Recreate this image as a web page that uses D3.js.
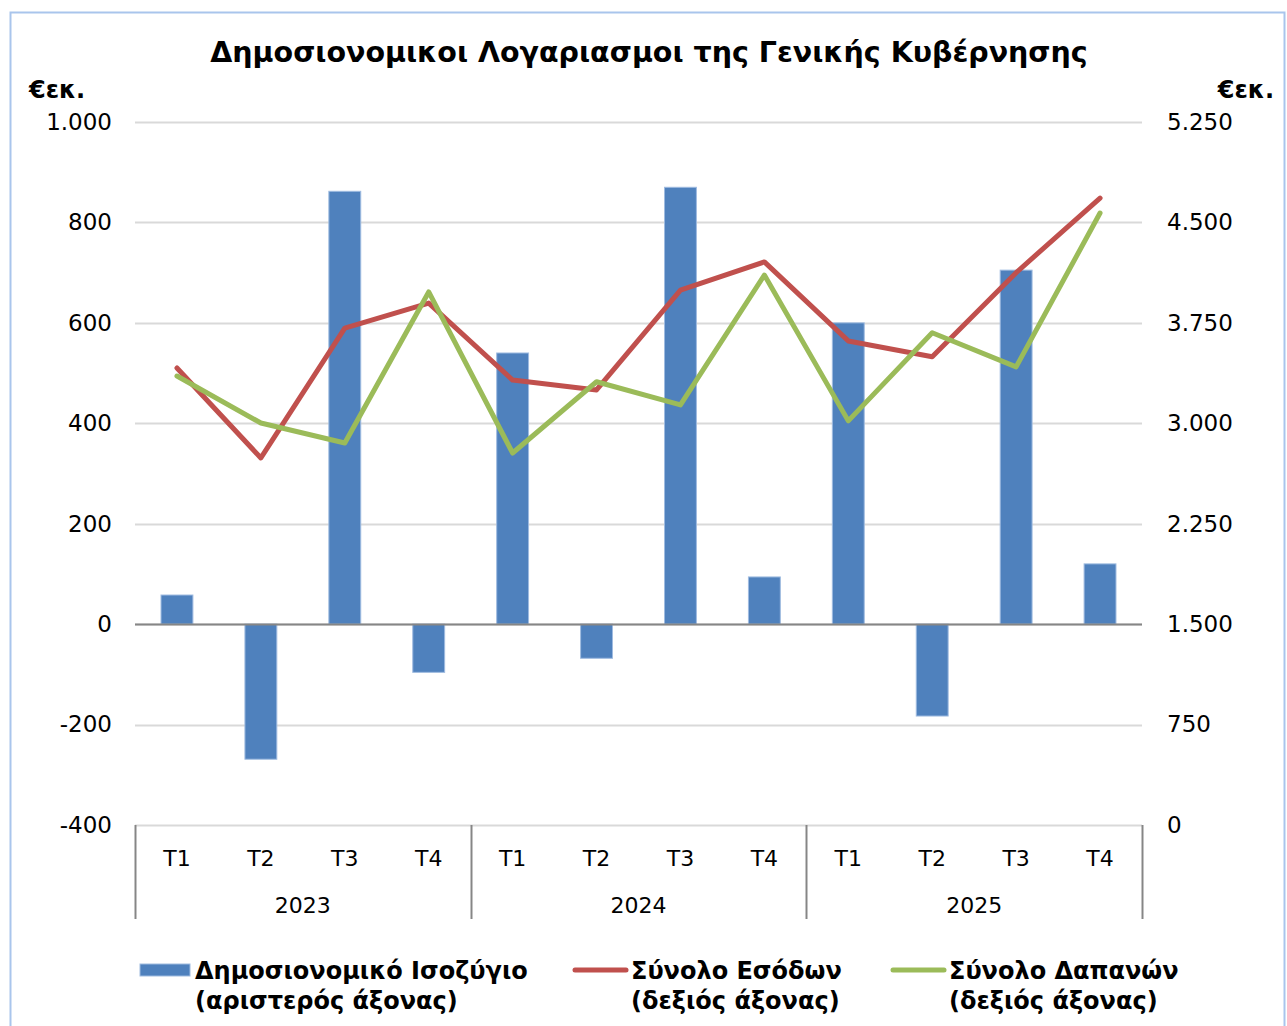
<!DOCTYPE html>
<html>
<head>
<meta charset="utf-8">
<script src="https://cdn.jsdelivr.net/npm/d3@7"></script>
<style>
  body { margin: 0; background: #fff; }
  text { font-family: "DejaVu Sans", Verdana, sans-serif; fill: #000; }
</style>
</head>
<body>
<div id="myChart"></div>
<script>
let quarters = ['T1', 'T2', 'T3', 'T4', 'T1', 'T2', 'T3', 'T4', 'T1', 'T2', 'T3', 'T4'];
let years = ['2023', '2024', '2025'];
// Δημοσιονομικό Ισοζύγιο (left axis)
let balance = [58, -269, 862, -96, 540, -68, 870, 94, 600, -183, 705, 120];
// Σύνολο Εσόδων (right axis)
let revenue = [3413, 2741, 3710, 3898, 3323, 3249, 3995, 4205, 3615, 3497, 4125, 4682];
// Σύνολο Δαπανών (right axis)
let expenditure = [3353, 3002, 2853, 3981, 2778, 3310, 3137, 4107, 3018, 3676, 3421, 4570];
let leftTicks = [-400, -200, 0, 200, 400, 600, 800, 1000];
let rightTicks = [0, 750, 1500, 2250, 3000, 3750, 4500, 5250];

let W = 1287, H = 1026;
let margin = { left: 135, right: 145, top: 122, bottom: 201 };
let width = W - margin.left - margin.right;
let height = H - margin.top - margin.bottom;

let grFormat = d3.formatLocale({ decimal: ',', thousands: '.', grouping: [3], currency: ['€', ''], minus: '-' }).format(',d');

let root = d3.select('#myChart').append('svg').attr('width', W).attr('height', H);

// chart frame
root.append('rect')
    .attr('x', 10.5).attr('y', 12.5)
    .attr('width', 1274).attr('height', 1040)
    .attr('fill', 'none')
    .attr('stroke', '#a9c5ec')
    .attr('stroke-width', 2);

root.append('text')
    .attr('x', 649).attr('y', 62)
    .style('text-anchor', 'middle')
    .style('font-weight', 'bold')
    .style('font-size', '28.5px')
    .text('Δημοσιονομικοι Λογαριασμοι της Γενικής Κυβέρνησης');

root.append('text').attr('x', 29).attr('y', 98)
    .style('font-weight', 'bold').style('font-size', '24px').text('€εκ.');
root.append('text').attr('x', 1274).attr('y', 98)
    .style('text-anchor', 'end')
    .style('font-weight', 'bold').style('font-size', '24px').text('€εκ.');

let svg = root.append('g')
    .attr('transform', 'translate(' + margin.left + ',' + margin.top + ')');

let idx = d3.range(quarters.length);
let x = d3.scaleBand().domain(idx).range([0, width]).paddingInner(0).paddingOuter(0);
let barW = x.bandwidth() * 0.38;
let yL = d3.scaleLinear().domain([-400, 1000]).range([height, 0]);
let yR = d3.scaleLinear().domain([0, 5250]).range([height, 0]);

// gridlines
svg.selectAll('.grid')
    .data(leftTicks)
    .enter()
    .append('line')
    .attr('class', 'grid')
    .attr('x1', 0).attr('x2', width)
    .attr('y1', (d) => Math.round(yL(d)) + 0.5)
    .attr('y2', (d) => Math.round(yL(d)) + 0.5)
    .attr('stroke', '#d9d9d9')
    .attr('stroke-width', 2);

// left axis
let axL = svg.append('g')
    .call(d3.axisLeft(yL).tickValues(leftTicks).tickFormat(grFormat).tickSize(0).tickPadding(23));
axL.select('.domain').remove();
axL.selectAll('text').style('font-size', '23px').attr('fill', '#000').style('font-family', '"DejaVu Sans", Verdana, sans-serif');

// right axis
let axR = svg.append('g')
    .attr('transform', 'translate(' + width + ',0)')
    .call(d3.axisRight(yR).tickValues(rightTicks).tickFormat(grFormat).tickSize(0).tickPadding(25));
axR.select('.domain').remove();
axR.selectAll('text').style('font-size', '23px').attr('fill', '#000').style('font-family', '"DejaVu Sans", Verdana, sans-serif');

// bars
svg.selectAll('.bar')
    .data(balance)
    .enter()
    .append('rect')
    .attr('class', 'bar')
    .attr('x', (d, i) => x(i) + (x.bandwidth() - barW) / 2)
    .attr('width', barW)
    .attr('y', (d) => yL(Math.max(0, d)))
    .attr('height', (d) => Math.abs(yL(d) - yL(0)))
    .attr('fill', '#4f81bd')
    .attr('stroke', '#9fbbe0')
    .attr('stroke-width', 1);

// zero line
svg.append('line')
    .attr('x1', 0).attr('x2', width)
    .attr('y1', Math.round(yL(0)) + 0.5).attr('y2', Math.round(yL(0)) + 0.5)
    .attr('stroke', '#868686')
    .attr('stroke-width', 2);

// lines
let line = d3.line()
    .x((d, i) => x(i) + x.bandwidth() / 2)
    .y((d) => yR(d));

svg.append('path')
    .datum(revenue)
    .attr('d', line)
    .attr('fill', 'none')
    .attr('stroke', '#c0504d')
    .attr('stroke-width', 5)
    .attr('stroke-linejoin', 'round')
    .attr('stroke-linecap', 'round');

svg.append('path')
    .datum(expenditure)
    .attr('d', line)
    .attr('fill', 'none')
    .attr('stroke', '#9bbb59')
    .attr('stroke-width', 5)
    .attr('stroke-linejoin', 'round')
    .attr('stroke-linecap', 'round');

// category axis: quarters and years
let catG = svg.append('g').attr('transform', 'translate(0,' + height + ')');
catG.selectAll('.q')
    .data(quarters)
    .enter()
    .append('text')
    .attr('class', 'q')
    .attr('x', (d, i) => x(i) + x.bandwidth() / 2)
    .attr('y', 41)
    .style('text-anchor', 'middle')
    .style('font-size', '22px')
    .text((d) => d);

let yearW = width / years.length;
catG.selectAll('.yr')
    .data(years)
    .enter()
    .append('text')
    .attr('class', 'yr')
    .attr('x', (d, i) => yearW * i + yearW / 2)
    .attr('y', 88)
    .style('text-anchor', 'middle')
    .style('font-size', '22px')
    .text((d) => d);

catG.selectAll('.sep')
    .data(d3.range(years.length + 1))
    .enter()
    .append('line')
    .attr('class', 'sep')
    .attr('x1', (d) => Math.round(yearW * d) + 0.5)
    .attr('x2', (d) => Math.round(yearW * d) + 0.5)
    .attr('y1', 0).attr('y2', 94)
    .attr('stroke', '#868686')
    .attr('stroke-width', 2);

// legend
let legend = [
    { type: 'bar', color: '#4f81bd', x: 140, l1: 'Δημοσιονομικό Ισοζύγιο', l2: '(αριστερός άξονας)' },
    { type: 'line', color: '#c0504d', x: 572, l1: 'Σύνολο Εσόδων', l2: '(δεξιός άξονας)' },
    { type: 'line', color: '#9bbb59', x: 890, l1: 'Σύνολο Δαπανών', l2: '(δεξιός άξονας)' },
];
let lg = root.selectAll('.legend')
    .data(legend)
    .enter()
    .append('g')
    .attr('class', 'legend')
    .attr('transform', (d) => 'translate(' + d.x + ',970)');

lg.filter((d) => d.type === 'bar')
    .append('rect')
    .attr('x', 0).attr('y', -6)
    .attr('width', 50).attr('height', 12)
    .attr('fill', '#4f81bd')
    .attr('stroke', '#9fbbe0');

lg.filter((d) => d.type === 'line')
    .append('line')
    .attr('x1', 3).attr('x2', 54)
    .attr('y1', 0).attr('y2', 0)
    .attr('stroke', (d) => d.color)
    .attr('stroke-width', 5)
    .attr('stroke-linecap', 'round');

lg.append('text')
    .attr('x', (d) => (d.type === 'bar' ? 55 : 59))
    .attr('y', 9)
    .style('font-weight', 'bold')
    .style('font-size', '24px')
    .text((d) => d.l1);
lg.append('text')
    .attr('x', (d) => (d.type === 'bar' ? 55 : 59))
    .attr('y', 39)
    .style('font-weight', 'bold')
    .style('font-size', '24px')
    .text((d) => d.l2);
</script>
</body>
</html>
